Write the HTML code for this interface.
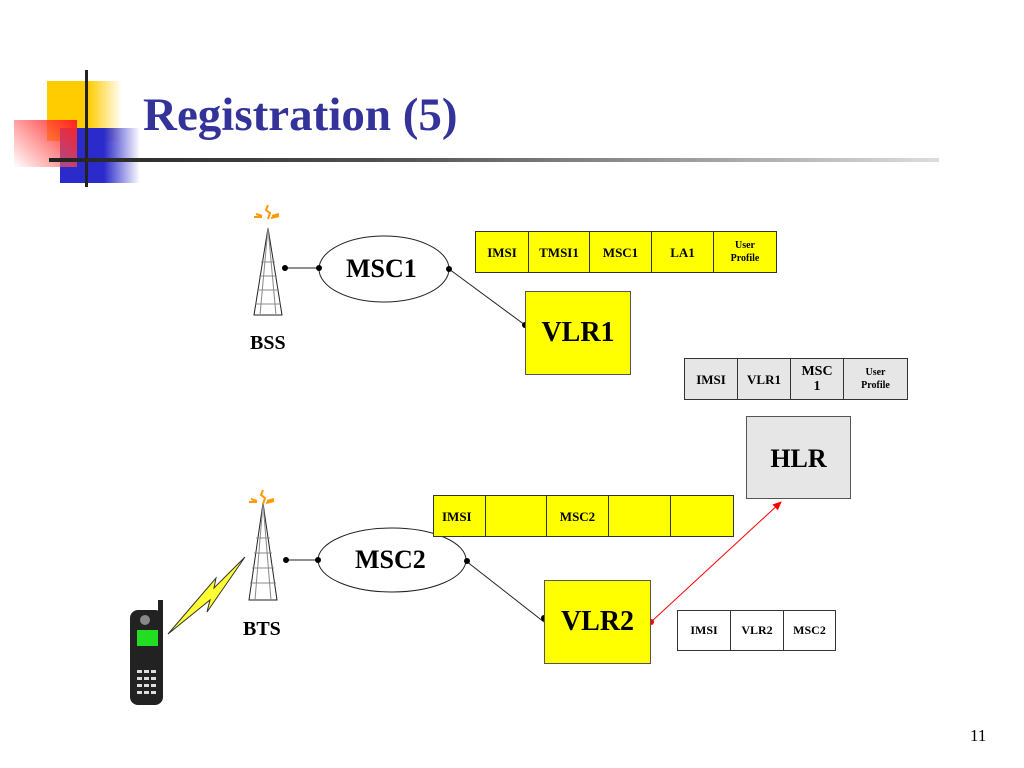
<!DOCTYPE html>
<html><head><meta charset="utf-8"><style>
body{margin:0;width:1024px;height:768px;background:#fff;position:relative;overflow:hidden;font-family:"Liberation Serif",serif;font-weight:bold}
.a{position:absolute}
table{position:absolute;border-collapse:collapse}
td{border:1px solid #333;text-align:center;padding:0;font-size:13px;line-height:13px}
</style></head><body>
<div class="a" style="left:47px;top:81px;width:75px;height:60px;background:linear-gradient(90deg,#ffcc00 55%,rgba(255,230,150,0))"></div>
<div class="a" style="left:60px;top:128px;width:80px;height:55px;background:linear-gradient(90deg,#2b2bcc 55%,rgba(60,60,220,0))"></div>
<div class="a" style="left:14px;top:120px;width:63px;height:47px;background:linear-gradient(45deg,rgba(255,255,255,0.3),#ff2020)"></div>
<div class="a" style="left:85px;top:70px;width:3px;height:117px;background:#222"></div>
<div class="a" style="left:49px;top:158px;width:890px;height:4px;background:linear-gradient(90deg,#222,#555 40%,#ddd)"></div>
<div class="a" style="left:143px;top:88px;font-size:47px;color:#333399">Registration (5)</div>

<svg class="a" style="left:0;top:0" width="1024" height="768">
<defs><marker id="ar" markerWidth="10" markerHeight="10" refX="8" refY="5" orient="auto"><path d="M0,1 L9,5 L0,9z" fill="red"/></marker></defs>
<g stroke="#222" fill="#fff" stroke-width="1">
<path d="M268,228 L254,315 L282,315 Z"/>
<path d="M261,262 L275,262 M259,276 L277,276 M257,290 L279,290 M255,304 L281,304 M268,228 L260,315 M268,228 L276,315" stroke="#888" fill="none"/>
<path d="M263,503 L249,600 L277,600 Z"/>
<path d="M256,538 L270,538 M254,553 L272,553 M252,568 L274,568 M250,583 L276,583 M263,503 L255,600 M263,503 L271,600" stroke="#888" fill="none"/>
<ellipse cx="384" cy="269" rx="65" ry="33"/>
<ellipse cx="392" cy="560" rx="74" ry="32"/>
<path d="M285,268 L319,268 M449,269 L525,325 M286,560 L318,560 M466,561 L544,622" fill="none"/>
</g>
<g fill="#000"><circle cx="285" cy="268" r="3"/><circle cx="319" cy="268" r="3"/><circle cx="449" cy="269" r="3"/><circle cx="525" cy="325" r="3"/>
<circle cx="286" cy="560" r="3"/><circle cx="318" cy="560" r="3"/><circle cx="467" cy="561" r="3"/><circle cx="544" cy="618" r="3"/></g>
<g stroke="#f90" stroke-width="2" fill="none"><path d="M268,205 l-2,5 4,3 -2,6 M256,214 l6,2 M272,216 l7,-2 M254,217 l8,0 M271,218 l8,-2"/>
<path d="M263,490 l-2,5 4,3 -2,6 M251,499 l6,2 M267,501 l7,-2 M249,502 l8,0 M266,503 l8,-2"/></g>
<path d="M168,634 L210,600 L207,612 L245,557 L214,588 L216,578 Z" fill="#ffff33" stroke="#333"/>
<rect x="158" y="600" width="5" height="18" fill="#222"/>
<rect x="130" y="610" width="33" height="95" rx="8" fill="#222"/>
<circle cx="145" cy="620" r="5" fill="#888"/>
<rect x="137" y="630" width="21" height="16" fill="#22dd22"/>
<g fill="#ddd"><rect x="137" y="670" width="5" height="3"/><rect x="144" y="670" width="5" height="3"/><rect x="151" y="670" width="5" height="3"/>
<rect x="137" y="677" width="5" height="3"/><rect x="144" y="677" width="5" height="3"/><rect x="151" y="677" width="5" height="3"/>
<rect x="137" y="684" width="5" height="3"/><rect x="144" y="684" width="5" height="3"/><rect x="151" y="684" width="5" height="3"/>
<rect x="137" y="691" width="5" height="3"/><rect x="144" y="691" width="5" height="3"/><rect x="151" y="691" width="5" height="3"/></g>
<line x1="651" y1="622" x2="781" y2="502" stroke="red" marker-end="url(#ar)"/>
<circle cx="651" cy="622" r="3" fill="red"/>
</svg>

<div class="a" style="left:250px;top:332px;font-size:20px">BSS</div>
<div class="a" style="left:243px;top:618px;font-size:20px">BTS</div>
<div class="a" style="left:346px;top:254px;font-size:26px">MSC1</div>
<div class="a" style="left:355px;top:545px;font-size:26px">MSC2</div>

<div class="a" style="left:525px;top:291px;width:106px;height:84px;background:#ffff00;border:1px solid #555;font-size:28px;text-align:center;line-height:82px;box-sizing:border-box">VLR1</div>
<div class="a" style="left:544px;top:580px;width:107px;height:84px;background:#ffff00;border:1px solid #555;font-size:28px;text-align:center;line-height:82px;box-sizing:border-box">VLR2</div>
<div class="a" style="left:746px;top:416px;width:105px;height:83px;background:#e6e6e6;border:1px solid #555;font-size:26px;text-align:center;line-height:84px;box-sizing:border-box">HLR</div>

<table style="left:475px;top:231px;background:#ffff00;height:42px">
<tr><td style="width:52px">IMSI</td><td style="width:60px">TMSI1</td><td style="width:61px">MSC1</td><td style="width:61px">LA1</td><td style="width:62px;font-size:10px;line-height:13px">User<br>Profile</td></tr></table>
<table style="left:684px;top:358px;background:#e6e6e6;height:42px">
<tr><td style="width:52px">IMSI</td><td style="width:52px">VLR1</td><td style="width:52px;font-size:14px;line-height:15px">MSC<br>1</td><td style="width:63px;font-size:10px;line-height:13px">User<br>Profile</td></tr></table>
<table style="left:433px;top:495px;background:#ffff00;height:42px">
<tr><td style="width:52px;text-align:left;padding-left:8px;box-sizing:border-box">IMSI</td><td style="width:60px"></td><td style="width:61px">MSC2</td><td style="width:61px"></td><td style="width:62px"></td></tr></table>
<table style="left:677px;top:610px;background:#fff;height:41px">
<tr><td style="width:52px;font-size:12px">IMSI</td><td style="width:52px;font-size:12px">VLR2</td><td style="width:51px;font-size:12px">MSC2</td></tr></table>

<div class="a" style="left:970px;top:726px;font-size:17px;font-weight:normal">11</div>
</body></html>
